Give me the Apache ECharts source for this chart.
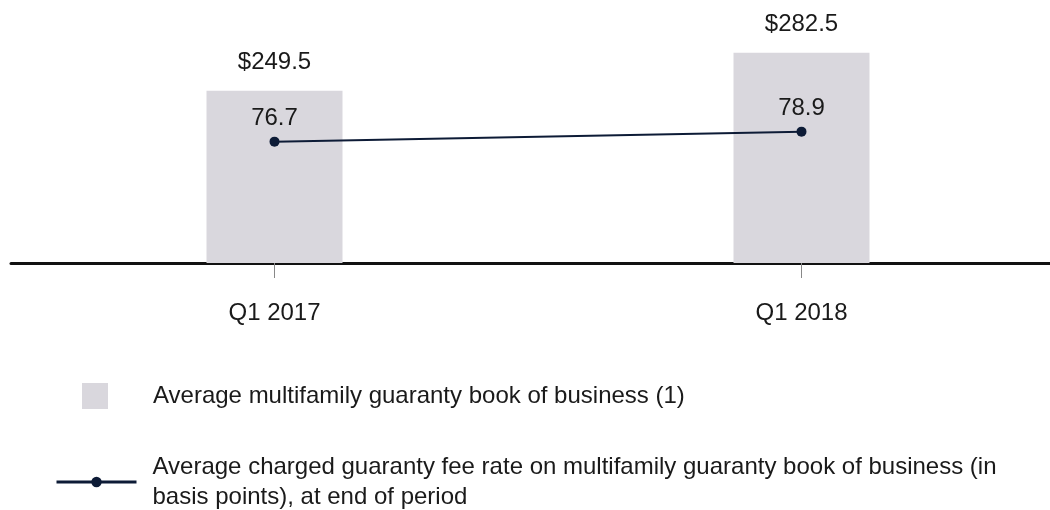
<!DOCTYPE html>
<html><head><meta charset="utf-8">
<script src="https://cdn.jsdelivr.net/npm/echarts@6/dist/echarts.min.js"></script>
<style>html,body{margin:0;padding:0;background:#fff}#c{width:1050px;height:510px}</style>
</head><body><div id="c"></div>
<script>
const categories = ['Q1 2017', 'Q1 2018'];
const bookValues = [249.5, 282.5];
const feeRates = [76.7, 78.9];
const barName = 'Average multifamily guaranty book of business (1)';
const lineName = 'Average charged guaranty fee rate on multifamily guaranty book of business (in basis points), at end of period';

const chart = echarts.init(document.getElementById('c'));
const font = 'Liberation Sans, Arial, sans-serif';
chart.setOption({
  animation: false,
  textStyle: { fontFamily: font },
  grid: { left: 11, width: 1054, top: -2, height: 265, containLabel: false, outerBoundsMode: 'none' },
  legend: [
    { data: [{ name: barName, icon: 'rect' }], left: 82, top: 383, padding: 0, orient: 'vertical', itemWidth: 26, itemHeight: 26,
      textStyle: { fontSize: 24, color: '#1a1a1a', padding: [0, 0, 0, 40], fontFamily: font } },
    { data: [lineName], left: 55, top: 452, padding: 0, orient: 'vertical', itemWidth: 80, itemHeight: 13,
      lineStyle: { width: 3, color: '#0d1b36' },
      formatter: function () { return 'Average charged guaranty fee rate on multifamily guaranty book of business (in\nbasis points), at end of period'; },
      textStyle: { fontSize: 24, color: '#1a1a1a', lineHeight: 30, padding: [0, 0, 0, 11], fontFamily: font } }
  ],
  xAxis: {
    type: 'category', data: categories,
    axisLine: { show: true, lineStyle: { color: '#111', width: 3 } },
    axisTick: { show: true, alignWithLabel: true, length: 15, lineStyle: { color: '#888', width: 1 } },
    axisLabel: { fontSize: 24, color: '#1a1a1a', margin: 38, fontFamily: font }
  },
  yAxis: [
    { type: 'value', min: 100, max: 330, show: false, splitLine: { show: false } },
    { type: 'value', min: 50, max: 108.3, show: false, splitLine: { show: false } }
  ],
  series: [
    { name: barName, type: 'bar', data: bookValues, barWidth: 136, yAxisIndex: 0,
      itemStyle: { color: '#d9d7dd' },
      label: { show: true, position: 'top', distance: 16, fontSize: 24, color: '#1a1a1a', fontFamily: font,
        formatter: p => '$' + p.value.toFixed(1) } },
    { name: lineName, type: 'line', data: feeRates, yAxisIndex: 1,
      symbol: 'circle', symbolSize: 10,
      lineStyle: { color: '#0d1b36', width: 2 }, itemStyle: { color: '#0d1b36' },
      label: { show: true, position: 'top', distance: 6, fontSize: 24, color: '#1a1a1a', fontFamily: font,
        formatter: p => p.value.toFixed(1) } }
  ]
});
</script></body></html>
